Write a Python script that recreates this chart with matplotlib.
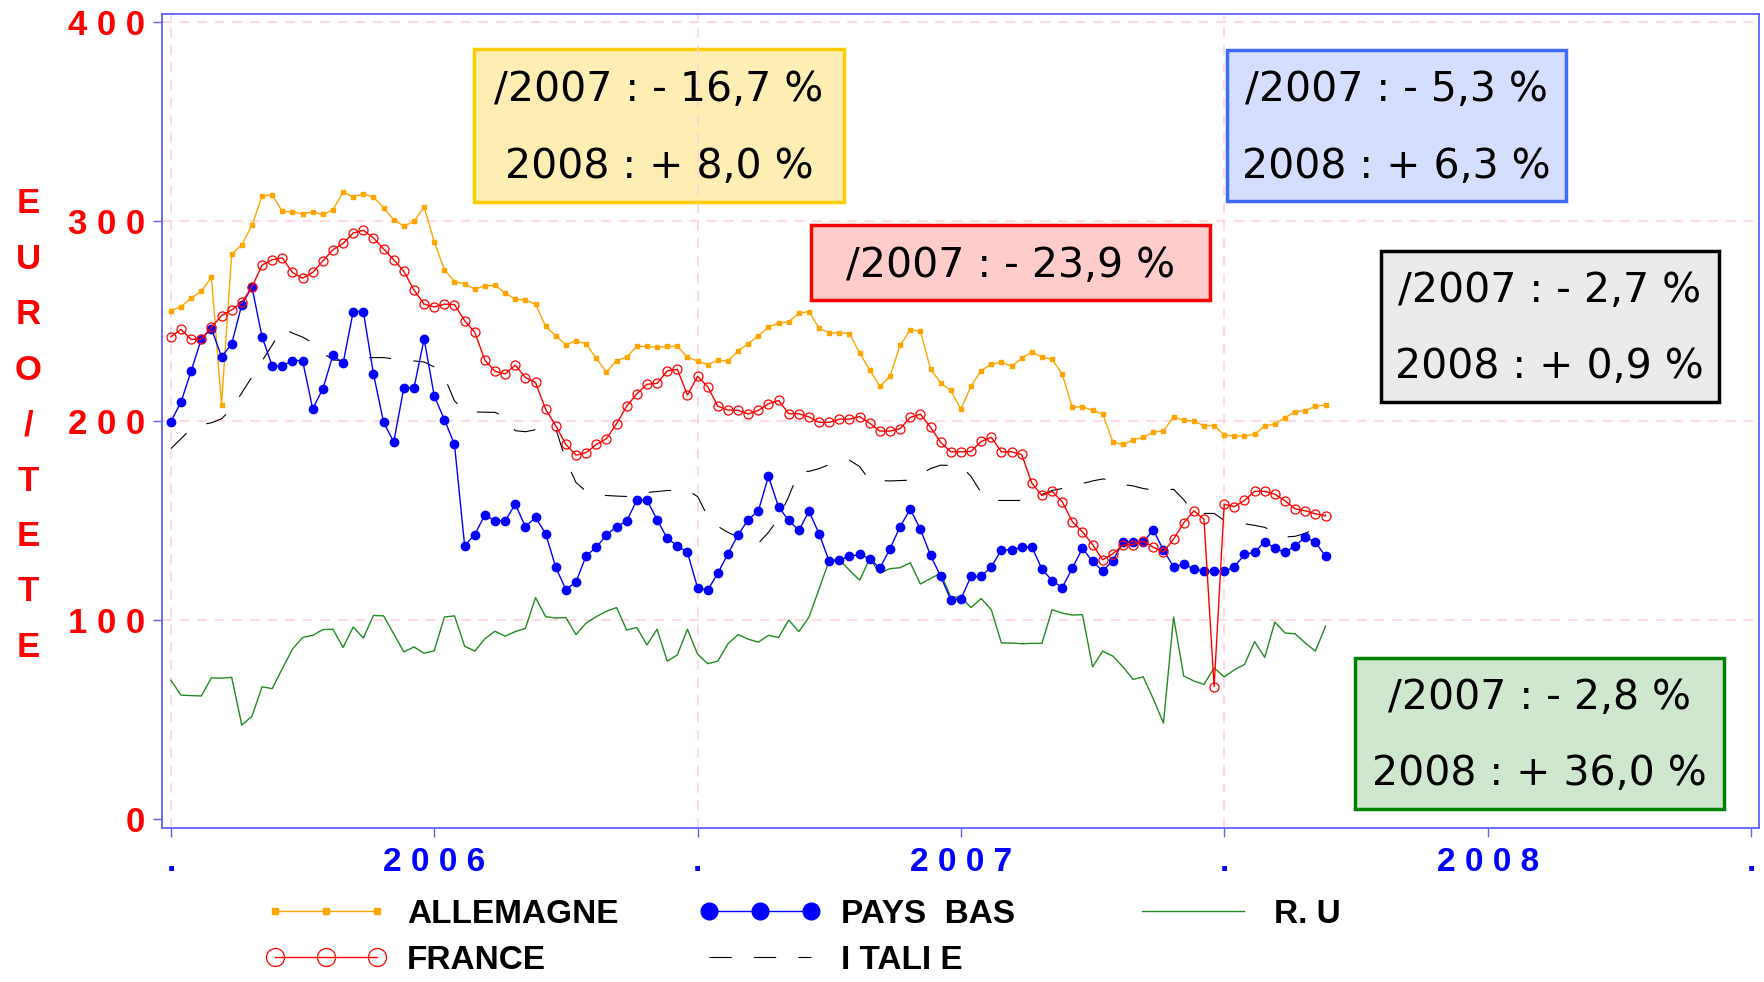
import matplotlib
matplotlib.use("Agg")
import matplotlib.pyplot as plt
from matplotlib.patches import Rectangle

W, H = 1765, 982

# ---- data (weekly prices, week index 0 = first week of 2006) ----
weeks = list(range(115))

allemagne = [255.2, 257.3, 261.5, 265, 272, 208.1, 283.5, 288.3, 298.1, 312.7,
             313.5, 305, 304.8, 303.8, 304.8, 303.5, 305.8, 314.8, 312.3, 313.8,
             312.3, 306.9, 300.8, 297.7, 300, 307.3, 289.8, 275.8, 269.8, 268.75,
             266, 267.7, 267.9, 264.2, 261, 260.6, 258.5, 247.3, 242.7, 238.1,
             240.2, 238.5, 231.3, 224.4, 230.2, 231.9, 237.3, 237.3, 236.9, 237.3,
             237.3, 231.9, 230, 228.1, 230.4, 230, 235, 238.7, 242.7, 246.9,
             249, 249.6, 254, 254.8, 246.5, 244, 244.2, 243.75, 234, 225.6,
             217.3, 222.3, 237.9, 245.6, 245, 226, 219, 215.2, 205.8, 217.3,
             225.2, 228.3, 229.4, 227.3, 231.25, 234.5, 231.9, 230.8, 223.5, 206.7,
             207.1, 205.2, 203.3, 189.4, 188.1, 190.4, 191.7, 194.2, 195, 201.9,
             200.2, 199.8, 197.5, 197.5, 192.9, 192.3, 192.3, 193.3, 197.3, 198.5,
             201.5, 204.6, 205, 207.3, 207.9]

france = [242.1, 245.8, 240.8, 241, 246.9, 252.7, 255.6, 259.4, 267.1, 278.1,
          280.8, 281.7, 274.4, 271.5, 274.4, 280.2, 285.8, 289, 294.2, 295.6,
          291.7, 286.25, 280.8, 275, 265.6, 258.5, 257.1, 258.5, 258.3, 250.2,
          244.4, 230.4, 224.8, 223.5, 227.9, 221.7, 219.2, 205.8, 197.5, 188.1,
          182.7, 184, 188.1, 191, 198.5, 207.3, 213.5, 218.3, 218.75, 225,
          225.8, 212.9, 222.3, 217.1, 207.3, 205.4, 205.2, 203.4, 205.2, 208.5,
          210.2, 203.5, 203.5, 201.9, 199.2, 199.2, 200.8, 200.8, 202.1, 198.75,
          194.8, 194.8, 196, 201.7, 203.3, 196.7, 189.2, 184.4, 184.4, 184.6,
          189.6, 191.7, 184.4, 184.4, 183.1, 168.75, 162.5, 164.6, 159.4, 149.4,
          144.2, 137.9, 130.2, 133.3, 137.5, 137.9, 139.6, 136.5, 134.2, 140.6,
          148.75, 154.8, 150.6, 66.5, 158.1, 156.9, 160, 164.6, 164.6, 163.1,
          159.8, 155.8, 154.8, 153.3, 152.3]

pays_bas = [199.6, 209.4, 225, 241, 246.25, 232.1, 238.5, 258.3, 267.1, 242.1,
            227.5, 227.5, 230.2, 230.2, 206, 216, 232.9, 228.75, 254.8, 254.8,
            223.5, 199.2, 189.4, 216.5, 216.5, 241, 212.5, 200.6, 188.1, 137.3,
            142.9, 152.7, 149.8, 149.8, 158.1, 146.9, 151.5, 143.3, 126.5, 115.2,
            119.2, 132.3, 136.5, 142.7, 146.9, 149.6, 160.2, 160.2, 150.4, 141,
            137.3, 133.9, 116.25, 115, 123.5, 133.3, 142.7, 150.4, 154.8, 172.1,
            156.7, 150, 145, 154.6, 143.3, 129.4, 130.2, 131.9, 132.9, 130.8,
            126, 135.8, 146.9, 155.6, 145.6, 132.5, 121.9, 110.2, 110.6, 121.9,
            121.9, 126.7, 135.2, 135.2, 136.5, 136.7, 125.6, 119.8, 116.25, 126,
            136, 129.4, 124.6, 129.8, 139, 139, 139.2, 145.2, 135, 126.7,
            128.1, 125.6, 124.4, 124.4, 124.4, 126.7, 132.9, 134, 139.4, 136,
            134, 137.1, 141.7, 139, 132.1]

italie = [186, 191, 196, 198, 199, 201, 206, 214, 222, 230,
          238, 246.5, 244, 242, 239, 234, 230.5, 230.2, 231, 231.6,
          231.7, 231.7, 231, 230.5, 230, 229.5, 227, 222, 210, 205,
          204.4, 204.3, 204.2, 202, 195, 194.5, 195.5, 196.5, 196, 180,
          169, 164.5, 163, 162.5, 162.2, 162, 163, 164, 164.5, 165,
          165, 165, 162, 152, 147, 144, 141.7, 139, 138.5, 144,
          151, 162, 174.5, 174.6, 176, 178, 179, 180.2, 177, 170,
          170, 169.8, 170, 170.2, 173, 176, 177.7, 177.6, 177.5, 172,
          164, 160, 160, 160, 160, 160, 163, 165, 166, 167.1,
          168.5, 169.8, 170.8, 170.2, 168, 167.3, 166, 165.2, 165.4, 165.6,
          160.4, 153.5, 153.5, 153.5, 150, 149, 148.3, 147.5, 146.5, 144,
          141.7, 142, 143.5, 146, 153]

ru = [69.8, 62.3, 62.1, 61.9, 71, 70.8, 71.25, 47.3, 51.7, 66.5,
      65.6, 75.6, 85.4, 91.25, 92.3, 95.2, 95.4, 86.25, 96.5, 91,
      102.3, 102.1, 93.1, 84, 86.5, 83.3, 84.6, 101.5, 102.1, 86.9,
      84.4, 90.6, 94.4, 91.9, 94.2, 95.8, 111.25, 101.7, 101, 101.25,
      92.7, 98.5, 101.7, 104.4, 106.25, 95, 96.25, 87.5, 95.4, 79.4,
      82.5, 95.4, 82.9, 78.1, 79.4, 88.1, 92.7, 90.4, 88.9, 92.3,
      91.25, 100, 94.2, 101.5, 115.6, 130, 130.2, 125, 120, 130.8,
      123.5, 125.8, 126.25, 128.75, 118.1, 120.8, 123.5, 111.5, 111.5, 106.25,
      110.8, 105.2, 88.5, 88.5, 88.1, 88.3, 88.3, 105.2, 103.5, 102.5,
      102.7, 76.5, 84.4, 81.9, 76.5, 70.2, 71.5, 60.4, 48.3, 101.5,
      71.9, 69.4, 67.7, 76, 71.5, 75, 77.7, 89.2, 81.25, 99,
      93.5, 93.1, 88.5, 84.4, 96.9]

x_tick_pos = [0, 26, 52, 78, 104, 130, 156]
x_tick_labels = [".", "2 0 0 6", ".", "2 0 0 7", ".", "2 0 0 8", "."]
year_bounds = [0, 52, 104]
y_tick_pos = [0, 100, 200, 300, 400]
y_tick_labels = ["0", "1 0 0", "2 0 0", "3 0 0", "4 0 0"]
ylabel_letters = ["E", "U", "R", "O", "/", "T", "E", "T", "E"]

legend_labels = {"all": "ALLEMAGNE", "fr": "FRANCE", "pb": "PAYS  BAS",
                 "it": "I TALI E", "ru": "R. U"}

boxes = [
    # (x0, y0, x1, y1) px, face, edge, lines
    ((474, 49.3, 844, 201.7), "#FFEEB4", "#FFCC00", ["/2007 : - 16,7 %", "2008 : + 8,0 %"]),
    ((1226.7, 50, 1565.7, 201), "#D6DEFF", "#3D6BFF", ["/2007 : - 5,3 %", "2008 : + 6,3 %"]),
    ((811, 225, 1210, 300), "#FFCCCC", "#FF0000", ["/2007 : - 23,9 %"]),
    ((1380.7, 250.7, 1719, 401.7), "#EBEBEB", "#000000", ["/2007 : - 2,7 %", "2008 : + 0,9 %"]),
    ((1355, 657.7, 1724.3, 809.3), "#CFE6CF", "#008000", ["/2007 : - 2,8 %", "2008 : + 36,0 %"]),
]

# ---- figure ----
fig = plt.figure(figsize=(W / 100, H / 100), dpi=100)
ax_l, ax_r, ax_t, ax_b = 162.3, 1759, 14, 827.7
ax = fig.add_axes([ax_l / W, 1 - ax_b / H, (ax_r - ax_l) / W, (ax_b - ax_t) / H])

pink = "#FFD0DC"
spine_c = "#6060FF"

l_all, = ax.plot(weeks, allemagne, color="#FFA500", lw=1.0, marker="s", ms=2.4,
                 label=legend_labels["all"], zorder=2)
l_pb, = ax.plot(weeks, pays_bas, color="#0000FF", lw=1.0, marker="o", ms=6,
                label=legend_labels["pb"], zorder=3)
l_ru, = ax.plot(weeks, ru, color="#228B22", lw=1.0, label=legend_labels["ru"], zorder=2)
l_it, = ax.plot(weeks, italie, color="black", lw=0.8, dashes=(20, 20),
                label=legend_labels["it"], zorder=2)
l_fr, = ax.plot(weeks, france, color="#FF0000", lw=1.0, marker="o", ms=6.5,
                mfc="none", mec="#FF0000", mew=0.9, label=legend_labels["fr"], zorder=4)

ax.set_xlim(-0.85, 156.8)
ax.set_ylim(-4.2, 404.1)

ax.set_axisbelow(True)
ax.set_yticks(y_tick_pos)
ax.set_yticklabels(y_tick_labels)
ax.set_xticks(x_tick_pos)
ax.set_xticklabels(x_tick_labels)
ax.yaxis.grid(True, color=pink, lw=1.1, ls=(0, (6.5, 5)))
for yb in year_bounds:
    ax.axvline(yb, color=pink, lw=1.1, ls=(0, (6.5, 5)), zorder=0.5)
for gl, v in zip(ax.yaxis.get_gridlines(), y_tick_pos):
    if v == 0:
        gl.set_visible(False)

for s in ax.spines.values():
    s.set_color(spine_c)
    s.set_linewidth(1.3)

ax.tick_params(axis="y", direction="out", length=6.5, width=1, color=spine_c, pad=5.8,
               labelsize=25, labelcolor="#FF0000")
ax.tick_params(axis="x", direction="out", length=6.5, width=1, color=spine_c, pad=7.5,
               labelsize=24, labelcolor="#0000FF")
for lab in ax.get_yticklabels() + ax.get_xticklabels():
    lab.set_fontfamily("Liberation Sans")
    lab.set_fontweight("bold")

# vertical y-axis label (one letter per line)
for k, ch in enumerate(ylabel_letters):
    yc = 200.4 + k * 55.43
    fig.text(28 / W, 1 - yc / H, ch, ha="center", va="center_baseline", color="#FF0000",
             fontsize=25, fontweight="bold", family="Liberation Sans")

# annotation boxes
for (x0, y0, x1, y1), fc, ec, lines in boxes:
    rect = Rectangle((x0 / W, 1 - y1 / H), (x1 - x0) / W, (y1 - y0) / H,
                     transform=fig.transFigure, facecolor=fc, edgecolor=ec, lw=2.5,
                     zorder=0.3)
    ax.add_patch(rect)
    xc = (x0 + x1) / 2
    yc = (y0 + y1) / 2
    if len(lines) == 1:
        ys = [yc]
    else:
        ys = [yc - 38.5, yc + 38]
    for t, yy in zip(lines, ys):
        fig.text(xc / W, 1 - (yy - 1.5) / H, t, ha="center", va="center_baseline",
                 fontsize=29.5, family="DejaVu Sans", color="black", zorder=10)

# legend (three columns)
leg_kw = dict(frameon=False, loc="upper left", borderpad=0, borderaxespad=0,
              handlelength=3.66, handletextpad=0.6, labelspacing=0.44, markerscale=2,
              numpoints=3, prop=dict(family="Liberation Sans", weight="bold", size=24))
top_px = 899
fig.legend(handles=[l_all, l_fr], bbox_to_anchor=(265 / W, 1 - top_px / H), **leg_kw)
fig.legend(handles=[l_pb, l_it], bbox_to_anchor=(699 / W, 1 - top_px / H), **leg_kw)
fig.legend(handles=[l_ru], bbox_to_anchor=(1132 / W, 1 - top_px / H), **leg_kw)

fig.savefig("out.png", dpi=100)
